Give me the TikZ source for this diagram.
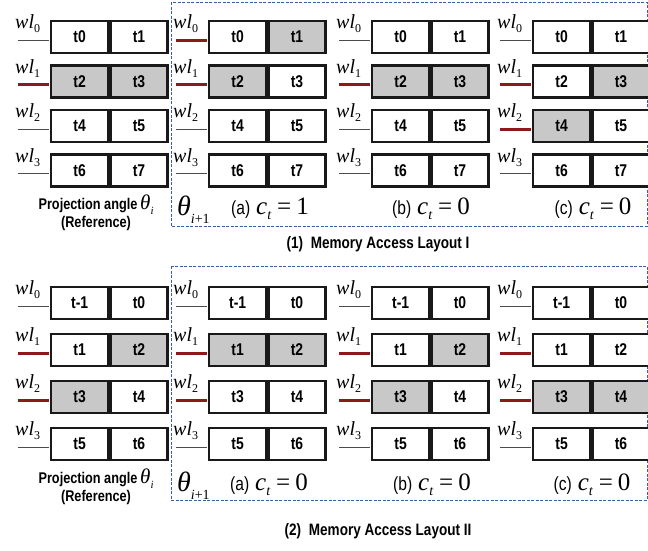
\documentclass[tikz,border=0pt]{standalone}
\usepackage{fontspec}
\setmainfont{Liberation Serif}
\newfontfamily\tms{Liberation Serif}
\newfontfamily\lab[FakeStretch=0.82]{Liberation Sans}
\usetikzlibrary{calc}
\definecolor{cellgray}{HTML}{C8C8C8}
\definecolor{wlred}{HTML}{8B1A1A}
\definecolor{frameblue}{HTML}{3A5BB0}
\tikzset{
  cellbox/.style={draw=black!90,line width=2.3pt,minimum width=57pt,minimum height=32pt,inner sep=0pt,
    font=\lab\bfseries\fontsize{17}{17}\selectfont},
  wlon/.style={draw=wlred,line width=3pt,shorten >=1.1pt},
  wloff/.style={draw=black!70,line width=0.8pt,shorten >=1.1pt},
  framebox/.style={draw=frameblue,line width=0.9pt,dash pattern=on 3pt off 1.5pt},
  txt/.style={inner sep=0pt,anchor=base},
  projtxt/.style={txt,font=\lab\bfseries\fontsize{15.5}{15.5}\selectfont},
  titletxt/.style={inner sep=0pt,font=\lab\bfseries\fontsize{16.5}{16.5}\selectfont},
}
\newcommand\wlabel[1]{{\tms\fontsize{20}{20}\selectfont\itshape wl\raisebox{-4pt}{\fontsize{12}{12}\selectfont\upshape #1}}}
\newcommand\ctcap[2]{{\lab\fontsize{19}{19}\selectfont(#1)}\hspace{6pt}{\tms\fontsize{25}{25}\selectfont\itshape c\raisebox{-5pt}{\fontsize{14}{14}\selectfont t}\hspace{6pt}\upshape=\hspace{5pt}#2}}
\newcommand\thetaip{{\tms\fontsize{28}{28}\selectfont\itshape θ\raisebox{-8pt}{\fontsize{14}{14}\selectfont i\upshape+1}}}
\newcommand\thetai{{\tms\fontsize{21}{21}\selectfont\itshape θ\raisebox{-5pt}{\fontsize{11}{11}\selectfont i}}}
% #1 name, #2 x, #3 y, #4 left text, #5 right text, #6 left fill, #7 right fill, #8 wl style, #9 index
\newcommand\cellrow[9]{%
  \node[cellbox,fill=#6,anchor=west] (#1a) at (#2,#3) {#4};
  \node[cellbox,fill=#7,anchor=west] (#1b) at (#1a.east) {#5};
  \coordinate (#1w) at ([xshift=-32pt,yshift=-3pt]#1a.west);
  \draw[#8] (#1w) -- (#1w -| #1a.west);
  \node[anchor=base west,inner sep=0pt] (#1l) at ([xshift=-35pt,yshift=8.5pt]#1a.west) {\wlabel{#9}};
}
\begin{document}
\begin{tikzpicture}[x=1pt,y=-1pt]
\useasboundingbox (0,0) rectangle (648,550);
\fill[white] (0,0) rectangle (648,550);
% frames
\draw[framebox] (171,2) rectangle (647,226);
\draw[framebox] (171,266) rectangle (647,500);
% ---------- Layout I ----------
\cellrow{TAr0}{50}{37}{t0}{t1}{white}{white}{wloff}{0}
\cellrow{TAr1}{50}{81.5}{t2}{t3}{cellgray}{cellgray}{wlon}{1}
\cellrow{TAr2}{50}{126}{t4}{t5}{white}{white}{wloff}{2}
\cellrow{TAr3}{50}{170.5}{t6}{t7}{white}{white}{wloff}{3}
\cellrow{TBr0}{208}{37}{t0}{t1}{white}{cellgray}{wlon}{0}
\cellrow{TBr1}{208}{81.5}{t2}{t3}{cellgray}{white}{wlon}{1}
\cellrow{TBr2}{208}{126}{t4}{t5}{white}{white}{wloff}{2}
\cellrow{TBr3}{208}{170.5}{t6}{t7}{white}{white}{wloff}{3}
\cellrow{TCr0}{371}{37}{t0}{t1}{white}{white}{wloff}{0}
\cellrow{TCr1}{371}{81.5}{t2}{t3}{cellgray}{cellgray}{wlon}{1}
\cellrow{TCr2}{371}{126}{t4}{t5}{white}{white}{wloff}{2}
\cellrow{TCr3}{371}{170.5}{t6}{t7}{white}{white}{wloff}{3}
\cellrow{TDr0}{532}{37}{t0}{t1}{white}{white}{wloff}{0}
\cellrow{TDr1}{532}{81.5}{t2}{t3}{white}{cellgray}{wlon}{1}
\cellrow{TDr2}{532}{126}{t4}{t5}{cellgray}{white}{wlon}{2}
\cellrow{TDr3}{532}{170.5}{t6}{t7}{white}{white}{wloff}{3}
\node[projtxt] (TPa) at (88,209) {Projection angle};
\node[txt,anchor=base west] (TPt) at (140,209) {\thetai};
\node[projtxt] (TPr) at (96,227) {(Reference)};
\node[txt,anchor=base west] (TTh) at (177,215) {\thetaip};
\node[txt] (TCa) at (270,214) {\ctcap{a}{1}};
\node[txt] (TCb) at (431,214) {\ctcap{b}{0}};
\node[txt] (TCc) at (593,214) {\ctcap{c}{0}};
\node[titletxt] (Ttitle) at (378,244) {(1)\hspace{4pt} Memory Access Layout I};
% ---------- Layout II ----------
\cellrow{BAr0}{50}{303}{t-1}{t0}{white}{white}{wloff}{0}
\cellrow{BAr1}{50}{350}{t1}{t2}{white}{cellgray}{wlon}{1}
\cellrow{BAr2}{50}{397}{t3}{t4}{cellgray}{white}{wlon}{2}
\cellrow{BAr3}{50}{444}{t5}{t6}{white}{white}{wloff}{3}
\cellrow{BBr0}{208}{303}{t-1}{t0}{white}{white}{wloff}{0}
\cellrow{BBr1}{208}{350}{t1}{t2}{cellgray}{cellgray}{wlon}{1}
\cellrow{BBr2}{208}{397}{t3}{t4}{white}{white}{wlon}{2}
\cellrow{BBr3}{208}{444}{t5}{t6}{white}{white}{wloff}{3}
\cellrow{BCr0}{371}{303}{t-1}{t0}{white}{white}{wloff}{0}
\cellrow{BCr1}{371}{350}{t1}{t2}{white}{cellgray}{wlon}{1}
\cellrow{BCr2}{371}{397}{t3}{t4}{cellgray}{white}{wlon}{2}
\cellrow{BCr3}{371}{444}{t5}{t6}{white}{white}{wloff}{3}
\cellrow{BDr0}{532}{303}{t-1}{t0}{white}{white}{wloff}{0}
\cellrow{BDr1}{532}{350}{t1}{t2}{white}{white}{wlon}{1}
\cellrow{BDr2}{532}{397}{t3}{t4}{cellgray}{cellgray}{wlon}{2}
\cellrow{BDr3}{532}{444}{t5}{t6}{white}{white}{wloff}{3}
\node[projtxt] (BPa) at (88,483) {Projection angle};
\node[txt,anchor=base west] (BPt) at (140,483) {\thetai};
\node[projtxt] (BPr) at (96,501) {(Reference)};
\node[txt,anchor=base west] (BTh) at (177,491) {\thetaip};
\node[txt] (BCa) at (269,490) {\ctcap{a}{0}};
\node[txt] (BCb) at (432,490) {\ctcap{b}{0}};
\node[txt] (BCc) at (592,490) {\ctcap{c}{0}};
\node[titletxt] (Btitle) at (378,531) {(2)\hspace{4pt} Memory Access Layout II};
\end{tikzpicture}
\end{document}
